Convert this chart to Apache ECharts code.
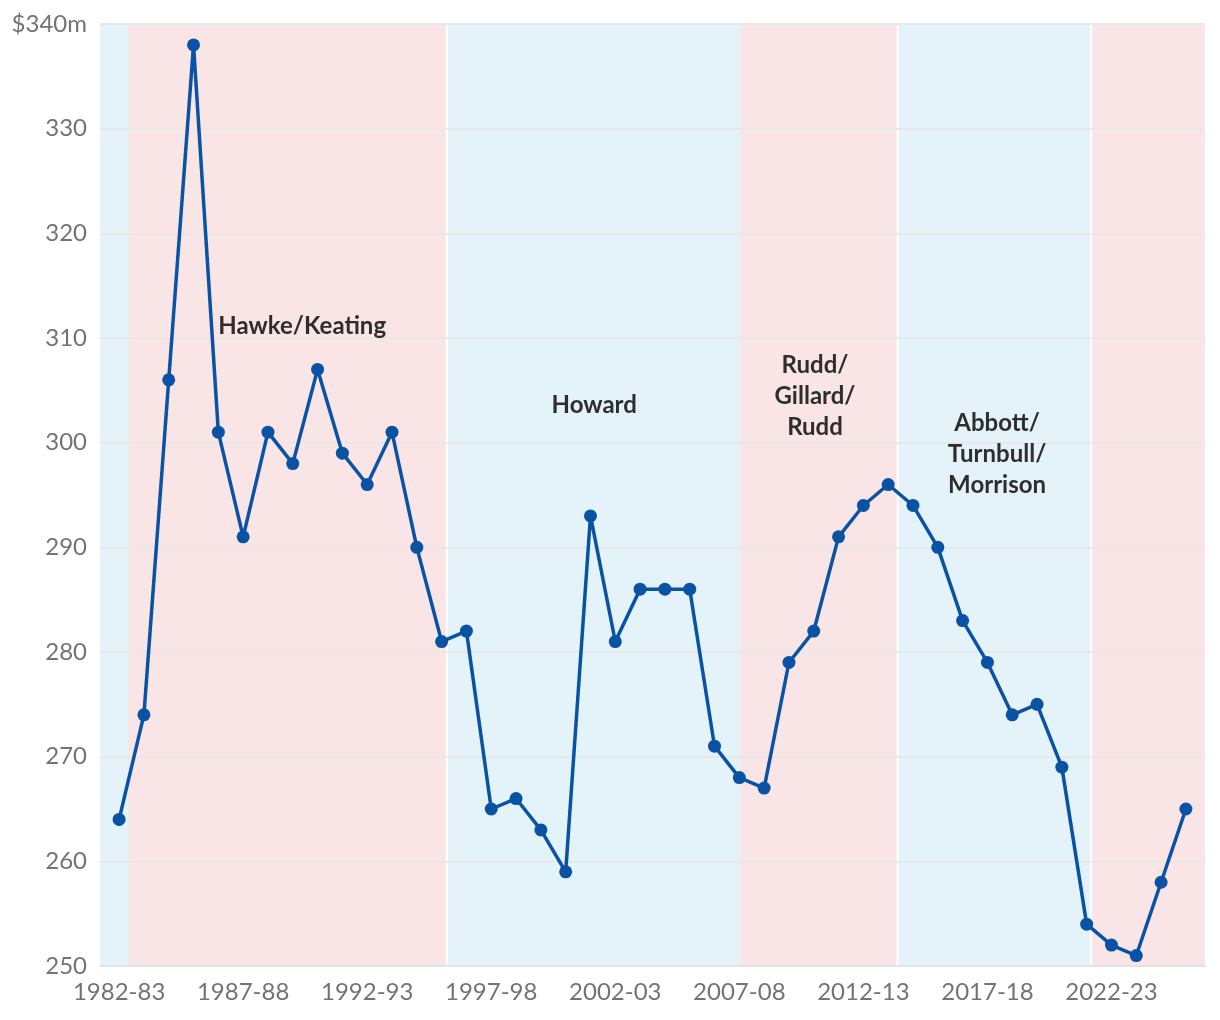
<!DOCTYPE html>
<html>
<head>
<meta charset="utf-8">
<script src="https://cdn.jsdelivr.net/npm/echarts@6/dist/echarts.min.js"></script>
<style>
html,body{margin:0;padding:0;background:#fff;}
#chart{width:1220px;height:1020px;}
</style>
</head>
<body>
<div id="chart"></div>
<script>
// Financial years (one point per year)
const categories = ['1982-83','1983-84','1984-85','1985-86','1986-87','1987-88','1988-89','1989-90','1990-91','1991-92',
  '1992-93','1993-94','1994-95','1995-96','1996-97','1997-98','1998-99','1999-00','2000-01','2001-02',
  '2002-03','2003-04','2004-05','2005-06','2006-07','2007-08','2008-09','2009-10','2010-11','2011-12',
  '2012-13','2013-14','2014-15','2015-16','2016-17','2017-18','2018-19','2019-20','2020-21','2021-22',
  '2022-23','2023-24','2024-25','2025-26'];
// Values, $m
const values = [264,274,306,338,301,291,301,298,307,299,
  296,301,290,281,282,265,266,263,259,293,
  281,286,286,286,271,268,267,279,282,291,
  294,296,294,290,283,279,274,275,269,254,
  252,251,258,265];
const xTickLabels = ['1982-83','1987-88','1992-93','1997-98','2002-03','2007-08','2012-13','2017-18','2022-23'];
const yTicks = [250,260,270,280,290,300,310,320,330,340];
// Government periods (start/end on the year-index scale) and party
const periodStart = [-0.77, 0.38, 13.25, 25.05, 31.42, 39.22];
const periodEnd   = [0.42, 13.17, 25.10, 31.34, 39.14, 43.77];
const periodParty = ['coalition','labor','coalition','labor','coalition','labor'];
// Government name labels: text and anchor (year index, $m)
const govNames = ['Hawke/Keating','Howard','Rudd/\nGillard/\nRudd','Abbott/\nTurnbull/\nMorrison'];
const govX = [7.38, 19.15, 28.05, 35.39];
const govY = [311.1, 303.6, 304.4, 298.9];

const partyColor = {coalition:'#e4f2fa', labor:'#f9e4e6'};
const chart = echarts.init(document.getElementById('chart'), null, {renderer:'canvas'});
const tickIdx = xTickLabels.map(l => categories.indexOf(l));
const font = 'Lato, "Open Sans", sans-serif';

chart.setOption({
  animation:false,
  grid:{left:100, right:15, top:24, bottom:54, containLabel:false},
  xAxis:{
    type:'value', min:-0.77, max:43.77, z:2,
    axisLine:{show:true, lineStyle:{color:'#e3e3e3', width:2}},
    axisTick:{show:false},
    splitLine:{show:false},
    axisLabel:{customValues:tickIdx, formatter:v=>categories[Math.round(v)], color:'#737373', fontSize:24, fontFamily:font, margin:14}
  },
  yAxis:{
    type:'value', min:yTicks[0], max:yTicks[yTicks.length-1], interval:10, z:2,
    axisLine:{show:false}, axisTick:{show:false},
    splitLine:{show:true, lineStyle:{color:'#e8e8e8', width:2}},
    axisLabel:{formatter:v=> v===340 ? '$340m' : String(v), color:'#737373', fontSize:24, fontFamily:font, margin:13}
  },
  series:[
    {
      type:'line', z:3,
      data: values.map((v,i)=>[i,v]),
      symbol:'circle', symbolSize:13,
      lineStyle:{color:'#0a52a4', width:3.5},
      itemStyle:{color:'#0a52a4'},
      markArea:{
        z:1, silent:true,
        data: periodStart.map((s,i)=>[
          {xAxis:s, itemStyle:{color:partyColor[periodParty[i]], opacity:1}},
          {xAxis:periodEnd[i]}
        ])
      }
    },
    {
      type:'scatter', z:4, symbolSize:0, silent:true,
      itemStyle:{opacity:1},
      data: govNames.map((n,i)=>({value:[govX[i], govY[i]], name:n})),
      label:{show:true, position:'inside', formatter:p=>p.name, color:'#2e2e2e', opacity:1, fontSize:24, fontWeight:'bold', fontFamily:font, lineHeight:31, align:'center'}
    }
  ]
});
</script>
</body>
</html>
